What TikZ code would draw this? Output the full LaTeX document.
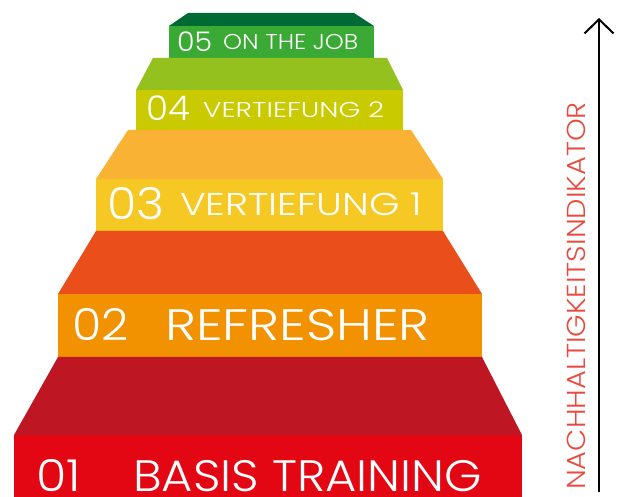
\documentclass[tikz,border=0pt]{standalone}
\usepackage{fontspec}
\newfontfamily\pfont{Poppins Light}
\usetikzlibrary{arrows.meta}
\definecolor{cFiveTop}{HTML}{006A35}
\definecolor{cFive}{HTML}{3AAA35}
\definecolor{cFourTop}{HTML}{95C11F}
\definecolor{cFour}{HTML}{CACA00}
\definecolor{cThreeTop}{HTML}{F9B233}
\definecolor{cThree}{HTML}{F6C823}
\definecolor{cTwoTop}{HTML}{E94E1B}
\definecolor{cTwo}{HTML}{F39200}
\definecolor{cOneTop}{HTML}{BE1622}
\definecolor{cOne}{HTML}{E30613}
\definecolor{cInd}{HTML}{E84A3F}
\newcommand{\fsz}[1]{\pfont\fontsize{#1}{#1}\selectfont}
\newcommand{\wide}[2]{\scalebox{#1}[1]{#2}}
\begin{document}
\begin{tikzpicture}[x=1pt,y=-1pt,
  lbl/.style={text=white, inner sep=0pt, anchor=base west}]
\useasboundingbox (0,0) rectangle (622,497);
% level 5
\fill[cFiveTop] (188,13) -- (354,13) -- (374,26) -- (169,26) -- cycle;
\fill[cFive] (169,26) rectangle (374,58);
% level 4
\fill[cFourTop] (153,58) -- (387,58) -- (403,90) -- (136,90) -- cycle;
\fill[cFour] (136,90) rectangle (403,130);
% level 3
\fill[cThreeTop] (128,130) -- (411,130) -- (443,179) -- (96,179) -- cycle;
\fill[cThree] (96,179) rectangle (443,231);
% level 2
\fill[cTwoTop] (96,231) -- (443,231) -- (482,294) -- (58,294) -- cycle;
\fill[cTwo] (58,294) rectangle (482,357);
% level 1
\fill[cOneTop] (58,357) -- (482,357) -- (522,435) -- (14,435) -- cycle;
\fill[cOne] (14,435) rectangle (522,497);
% labels
\node[lbl, font=\fsz{27}] (n5) at (177,51.7) {\wide{1.05}{05}};
\node[lbl, font=\fsz{21.5}] (t5) at (223,49.3) {\wide{1.12}{ON THE JOB}};
\node[lbl, font=\fsz{34}] (n4) at (146,121) {\wide{1.05}{04}};
\node[lbl, font=\fsz{21.5}] (t4) at (203,118) {\wide{1.3}{VERTIEFUNG 2}};
\node[lbl, font=\fsz{44}] (n3) at (107,220) {\wide{1.08}{03}};
\node[lbl, font=\fsz{31.5}] (t3) at (180,216) {\wide{1.24}{VERTIEFUNG 1}};
\node[lbl, font=\fsz{44}] (n2) at (72,341) {\wide{1.08}{02}};
\node[lbl, font=\fsz{44}] (t2) at (165,341) {\wide{1.2}{REFRESHER}};
\node[lbl, font=\fsz{44}] (n1) at (36,491) {\wide{1.12}{01}};
\node[lbl, font=\fsz{44}] (t1) at (133,491) {\wide{1.09}{BASIS TRAINING}};
% indicator arrow
\coordinate (abot) at (599,492);
\coordinate (atop) at (599,18);
\draw[line width=1.2pt, -{Straight Barb[length=14pt,width=29pt,line width=2pt]}] (abot) -- (atop);
\node[rotate=90, anchor=base west, text=cInd, inner sep=0pt, font=\fsz{26}] (ind) at (585,490) {\wide{1.11}{NACHHALTIGKEITSINDIKATOR}};
\end{tikzpicture}
\end{document}
